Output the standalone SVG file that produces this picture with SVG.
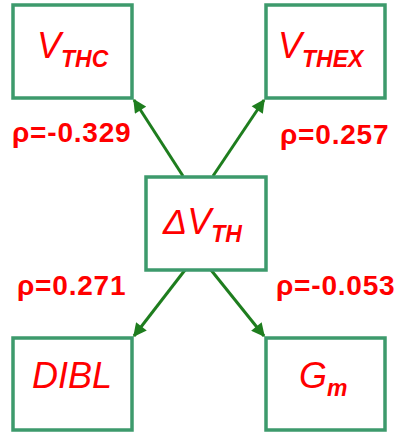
<svg xmlns="http://www.w3.org/2000/svg" width="398" height="432" viewBox="0 0 398 432">
<style>
.box{fill:#fff;stroke:#3d9a6c;stroke-width:3.5}
.lbl{font-family:"Liberation Sans",Arial,sans-serif;font-style:italic;fill:#ff0000}
.big{font-size:36px}
.sub{font-size:23px;font-weight:bold}
.rho{font-family:"Liberation Sans",Arial,sans-serif;font-weight:bold;font-size:28px;letter-spacing:0.8px;fill:#ff0000}
.conn{stroke:#1e7d1e;stroke-width:3;fill:none;marker-end:url(#ah)}
</style>
<defs>
<marker id="ah" viewBox="0 0 10 10" refX="9" refY="5" markerWidth="5" markerHeight="4.5" orient="auto" markerUnits="strokeWidth">
<path d="M0,0 L10,5 L0,10 z" fill="#1e7d1e"/>
</marker>
</defs>
<rect width="398" height="432" fill="#fff"/>
<g id="connectors">
<line class="conn" x1="183" y1="176" x2="134" y2="100"/>
<line class="conn" x1="213" y1="176" x2="264" y2="100"/>
<line class="conn" x1="185" y1="270" x2="134" y2="336"/>
<line class="conn" x1="211" y1="270" x2="264" y2="336"/>
</g>
<g id="vthc">
<rect class="box" x="13" y="5" width="119" height="93"/>
<text class="lbl" x="37" y="58"><tspan class="big">V</tspan><tspan class="sub" dy="9">THC</tspan></text>
</g>
<g id="vthex">
<rect class="box" x="266" y="5" width="119" height="93"/>
<text class="lbl" x="278" y="58"><tspan class="big">V</tspan><tspan class="sub" dy="9">THEX</tspan></text>
</g>
<g id="dvth">
<rect class="box" x="146" y="177" width="120" height="93"/>
<text class="lbl" x="163" y="234"><tspan class="big">ΔV</tspan><tspan class="sub" dy="8">TH</tspan></text>
</g>
<g id="dibl">
<rect class="box" x="13" y="338" width="119" height="92"/>
<text class="lbl big" x="32" y="388">DIBL</text>
</g>
<g id="gm">
<rect class="box" x="266" y="338" width="119" height="92"/>
<text class="lbl" x="299" y="388"><tspan class="big">G</tspan><tspan class="sub" dy="8">m</tspan></text>
</g>
<g id="labels">
<text class="rho" x="12" y="142">ρ=-0.329</text>
<text class="rho" x="280" y="144">ρ=0.257</text>
<text class="rho" x="17" y="295">ρ=0.271</text>
<text class="rho" x="276" y="295">ρ=-0.053</text>
</g>
</svg>
